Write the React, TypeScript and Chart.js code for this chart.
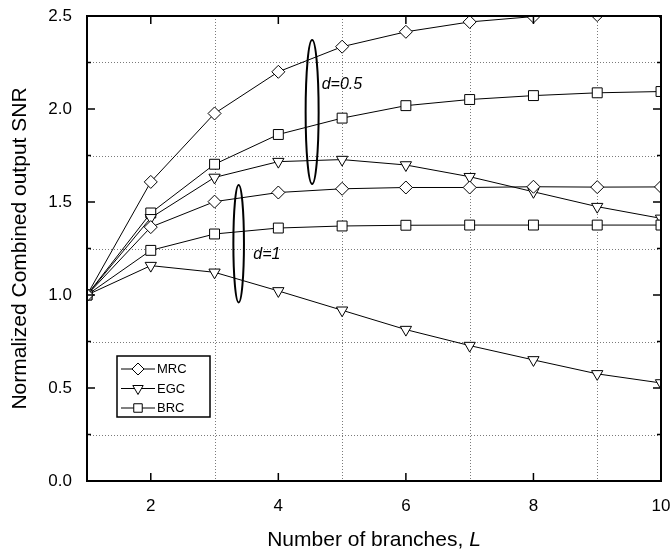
import React, { useEffect, useRef } from "react";
import { Chart, registerables } from "chart.js";

Chart.register(...registerables);

// ---------- data ----------
const branches = [1, 2, 3, 4, 5, 6, 7, 8, 9, 10];
const mrcD05 = [1.0, 1.608, 1.976, 2.2, 2.335, 2.415, 2.468, 2.497, 2.505, 2.52];
const egcD05 = [1.0, 1.415, 1.632, 1.717, 1.728, 1.699, 1.636, 1.555, 1.475, 1.412];
const brcD05 = [1.0, 1.441, 1.703, 1.863, 1.951, 2.018, 2.051, 2.072, 2.087, 2.094];
const mrcD1 = [1.0, 1.365, 1.502, 1.551, 1.571, 1.578, 1.578, 1.582, 1.58, 1.581];
const egcD1 = [1.0, 1.158, 1.122, 1.022, 0.918, 0.814, 0.728, 0.651, 0.576, 0.527];
const brcD1 = [1.0, 1.24, 1.328, 1.36, 1.371, 1.375, 1.376, 1.376, 1.376, 1.376];

const xLabelTicks = [2, 4, 6, 8, 10];
const xGridValues = [3, 5, 7, 9];
const xMajorTicks = [2, 4, 6, 8];
const yGridValues = [0.25, 0.75, 1.25, 1.75, 2.25];
const yMajorTicks = [0.5, 1.0, 1.5, 2.0];

const legendLabels = ["MRC", "EGC", "BRC"];
const legendStyles = ["rectRot", "triangleDown", "rect"];

// annotations (data coordinates)
const ellipseCx = [4.53, 3.378];
const ellipseCy = [1.984, 1.276];
const ellipseRy = [0.387, 0.316];
const ellipseRxPx = [6.5, 5.3];
const noteTexts = ["d=0.5", "d=1"];
const noteX = [4.68, 3.607];
const noteY = [2.134, 1.215];

const FONT = "'Liberation Sans', Arial, Helvetica, sans-serif";

function drawMarker(ctx: CanvasRenderingContext2D, style: string, x: number, y: number, r: number) {
  ctx.beginPath();
  if (style === "rectRot") {
    ctx.moveTo(x, y - r);
    ctx.lineTo(x + r, y);
    ctx.lineTo(x, y + r);
    ctx.lineTo(x - r, y);
    ctx.closePath();
  } else if (style === "rect") {
    const s = r * Math.SQRT1_2;
    ctx.rect(x - s, y - s, 2 * s, 2 * s);
  } else {
    const h = (r * Math.sqrt(3)) / 2;
    ctx.moveTo(x - h, y - r / 2);
    ctx.lineTo(x + h, y - r / 2);
    ctx.lineTo(x, y + r);
    ctx.closePath();
  }
  ctx.fillStyle = "#fff";
  ctx.fill();
  ctx.strokeStyle = "#000";
  ctx.lineWidth = 1;
  ctx.stroke();
}

const decorPlugin = {
  id: "decor",
  beforeDatasetsDraw(chart: any) {
    const { ctx, chartArea: a, scales } = chart;
    const x = scales.x;
    const y = scales.y;
    ctx.save();
    ctx.strokeStyle = "#7a7a7a";
    ctx.lineWidth = 1;
    ctx.setLineDash([1, 2]);
    for (const v of xGridValues) {
      const px = Math.round(x.getPixelForValue(v)) + 0.5;
      ctx.beginPath();
      ctx.moveTo(px, a.top);
      ctx.lineTo(px, a.bottom);
      ctx.stroke();
    }
    for (const v of yGridValues) {
      const py = Math.round(y.getPixelForValue(v)) + 0.5;
      ctx.beginPath();
      ctx.moveTo(a.left, py);
      ctx.lineTo(a.right, py);
      ctx.stroke();
    }
    ctx.restore();
  },
  afterDatasetsDraw(chart: any) {
    const { ctx, chartArea: a, scales } = chart;
    const x = scales.x;
    const y = scales.y;
    ctx.save();
    // frame
    ctx.strokeStyle = "#000";
    ctx.lineWidth = 2;
    ctx.strokeRect(a.left, a.top, a.right - a.left, a.bottom - a.top);
    // ticks
    ctx.lineWidth = 1.5;
    const major = 8;
    const minor = 4;
    for (const v of xMajorTicks) {
      const px = x.getPixelForValue(v);
      ctx.beginPath();
      ctx.moveTo(px, a.bottom);
      ctx.lineTo(px, a.bottom - major);
      ctx.moveTo(px, a.top);
      ctx.lineTo(px, a.top + major);
      ctx.stroke();
    }
    for (const v of yMajorTicks) {
      const py = y.getPixelForValue(v);
      ctx.beginPath();
      ctx.moveTo(a.left, py);
      ctx.lineTo(a.left + major, py);
      ctx.moveTo(a.right, py);
      ctx.lineTo(a.right - major, py);
      ctx.stroke();
    }
    for (const v of yGridValues) {
      const py = y.getPixelForValue(v);
      ctx.beginPath();
      ctx.moveTo(a.left, py);
      ctx.lineTo(a.left + minor, py);
      ctx.moveTo(a.right, py);
      ctx.lineTo(a.right - minor, py);
      ctx.stroke();
    }
    // ellipses
    ctx.lineWidth = 2;
    for (let i = 0; i < ellipseCx.length; i++) {
      const cx = x.getPixelForValue(ellipseCx[i]);
      const cy = y.getPixelForValue(ellipseCy[i]);
      const ry = Math.abs(y.getPixelForValue(ellipseCy[i] + ellipseRy[i]) - cy);
      ctx.beginPath();
      ctx.ellipse(cx, cy, ellipseRxPx[i], ry, 0, 0, Math.PI * 2);
      ctx.stroke();
    }
    // notes
    ctx.fillStyle = "#000";
    ctx.font = `italic 16px ${FONT}`;
    ctx.textAlign = "left";
    ctx.textBaseline = "middle";
    for (let i = 0; i < noteTexts.length; i++) {
      ctx.fillText(noteTexts[i], x.getPixelForValue(noteX[i]), y.getPixelForValue(noteY[i]));
    }
    // legend
    const lx = a.left + 30;
    const ly = a.top + 340;
    const lw = 93;
    const lh = 61;
    ctx.fillStyle = "#fff";
    ctx.fillRect(lx, ly, lw, lh);
    ctx.strokeStyle = "#000";
    ctx.lineWidth = 1.5;
    ctx.strokeRect(lx, ly, lw, lh);
    ctx.font = `13px ${FONT}`;
    for (let i = 0; i < legendLabels.length; i++) {
      const ey = ly + 13 + i * 19.5;
      ctx.strokeStyle = "#000";
      ctx.lineWidth = 1;
      ctx.beginPath();
      ctx.moveTo(lx + 4, ey);
      ctx.lineTo(lx + 38, ey);
      ctx.stroke();
      drawMarker(ctx, legendStyles[i], lx + 21, ey, 6);
      ctx.fillStyle = "#000";
      ctx.textAlign = "left";
      ctx.textBaseline = "middle";
      ctx.fillText(legendLabels[i], lx + 40, ey + 0.5);
    }
    // x title with italic L
    const t1 = "Number of branches, ";
    const t2 = "L";
    ctx.font = `21px ${FONT}`;
    const w1 = ctx.measureText(t1).width;
    ctx.font = `italic 21px ${FONT}`;
    const w2 = ctx.measureText(t2).width;
    const startX = (a.left + a.right) / 2 - (w1 + w2) / 2;
    const ty = 540;
    ctx.textBaseline = "middle";
    ctx.font = `21px ${FONT}`;
    ctx.fillText(t1, startX, ty);
    ctx.font = `italic 21px ${FONT}`;
    ctx.fillText(t2, startX + w1, ty);
    ctx.restore();
  },
};

function makeDataset(label: string, values: number[], style: string) {
  const isTri = style === "triangleDown";
  return {
    label,
    data: branches.map((b, i) => ({ x: b, y: values[i] })),
    borderColor: "#000",
    borderWidth: 1,
    backgroundColor: "#fff",
    pointStyle: isTri ? "triangle" : style,
    pointRotation: isTri ? 180 : 0,
    pointRadius: style === "rect" ? 7 : 6.5,
    pointBorderWidth: 1,
    pointBackgroundColor: "#fff",
    pointBorderColor: "#000",
    tension: 0,
    clip: 0,
  };
}

export default function App() {
  const ref = useRef<HTMLCanvasElement | null>(null);
  useEffect(() => {
    if (!ref.current) return;
    const chart = new Chart(ref.current, {
      type: "line",
      data: {
        datasets: [
          makeDataset("MRC d=1", mrcD1, "rectRot"),
          makeDataset("BRC d=1", brcD1, "rect"),
          makeDataset("EGC d=1", egcD1, "triangleDown"),
          makeDataset("EGC d=0.5", egcD05, "triangleDown"),
          makeDataset("BRC d=0.5", brcD05, "rect"),
          makeDataset("MRC d=0.5", mrcD05, "rectRot"),
        ] as any,
      },
      options: {
        animation: false,
        responsive: false,
        layout: { padding: { left: 0, right: 10, top: 16, bottom: 0 } },
        plugins: { legend: { display: false }, tooltip: { enabled: false } },
        scales: {
          x: {
            type: "linear",
            min: 1,
            max: 10,
            grid: { display: false, drawTicks: false },
            border: { display: false },
            ticks: {
              stepSize: 1,
              autoSkip: false,
              maxRotation: 0,
              padding: 15,
              color: "#000",
              font: { family: FONT, size: 17 },
              callback: (v: any) => (xLabelTicks.includes(Number(v)) ? String(v) : ""),
            },
            afterFit: (s: any) => {
              s.height = 72;
              s.paddingLeft = 0;
              s.paddingRight = 0;
            },
          },
          y: {
            min: 0,
            max: 2.5,
            grid: { display: false, drawTicks: false },
            border: { display: false },
            ticks: {
              stepSize: 0.5,
              padding: 15,
              color: "#000",
              font: { family: FONT, size: 17 },
              callback: (v: any) => Number(v).toFixed(1),
            },
            title: {
              display: true,
              text: "Normalized Combined output SNR",
              color: "#000",
              font: { family: FONT, size: 21 },
              padding: { top: 8, bottom: 0 },
            },
            afterFit: (s: any) => {
              s.width = 87;
              s.paddingTop = 0;
              s.paddingBottom = 0;
            },
          },
        },
      } as any,
      plugins: [decorPlugin],
    });
    return () => chart.destroy();
  }, []);
  return (
    <div style={{ position: "absolute", left: 0, top: 0, width: 671, height: 553, background: "#fff" }}>
      <canvas ref={ref} width={671} height={553} style={{ display: "block" }} />
    </div>
  );
}
